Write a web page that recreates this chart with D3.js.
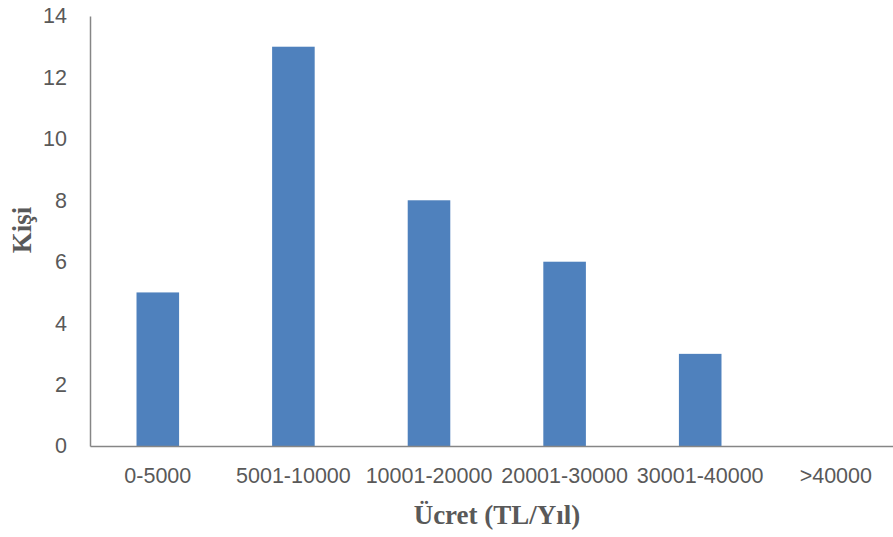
<!DOCTYPE html>
<html>
<head>
<meta charset="utf-8">
<script src="https://cdn.jsdelivr.net/npm/d3@7"></script>
<style>
  html, body { margin: 0; padding: 0; background: #fff; }
  svg { display: block; }
</style>
</head>
<body>
<script>
const categories = ["0-5000", "5001-10000", "10001-20000", "20001-30000", "30001-40000", ">40000"];
const values = [5, 13, 8, 6, 3, 0];
const yTicks = [0, 2, 4, 6, 8, 10, 12, 14];
const xTitle = "Ücret (TL/Yıl)";
const yTitle = "Kişi";

const W = 893, H = 537;
const mLeft = 90, mTop = 16, mBottom = 446, step = 135.6;

const svg = d3.select("body").append("svg").attr("width", W).attr("height", H);

const x = d3.scaleBand().domain(categories)
  .range([mLeft, mLeft + step * categories.length])
  .paddingInner(0.686).paddingOuter(0.343);
const y = d3.scaleLinear().domain([0, 14]).range([mBottom, mTop]);

svg.append("g").selectAll("rect").data(values).join("rect")
  .attr("x", (d, i) => x(categories[i]))
  .attr("y", d => y(d))
  .attr("width", x.bandwidth())
  .attr("height", d => y(0) - y(d))
  .attr("fill", "#4F81BD");

const tickFont = "'Liberation Sans', Arial, sans-serif";

const gy = svg.append("g").attr("transform", `translate(${mLeft},0)`)
  .call(d3.axisLeft(y).tickValues(yTicks).tickSize(0).tickSizeOuter(0).tickPadding(23));
gy.select(".domain").attr("stroke", "#868686").attr("stroke-width", 1.5);
gy.selectAll("text").attr("font-family", tickFont).attr("font-size", 21.5).attr("fill", "#595959");

const gx = svg.append("g").attr("transform", `translate(0,${mBottom})`)
  .call(d3.axisBottom(x).tickSize(0).tickSizeOuter(0).tickPadding(22));
gx.select(".domain").attr("stroke", "#868686").attr("stroke-width", 1.5);
gx.selectAll("text").attr("font-family", tickFont).attr("font-size", 21.5).attr("fill", "#595959");

svg.append("text")
  .attr("x", 497).attr("y", 524)
  .attr("text-anchor", "middle")
  .attr("font-family", "'Liberation Serif', 'Times New Roman', serif")
  .attr("font-weight", "bold").attr("font-size", 27)
  .attr("fill", "#595959")
  .text(xTitle);

svg.append("text")
  .attr("transform", "translate(31,230) rotate(-90)")
  .attr("text-anchor", "middle")
  .attr("font-family", "'Liberation Serif', 'Times New Roman', serif")
  .attr("font-weight", "bold").attr("font-size", 27)
  .attr("fill", "#595959")
  .text(yTitle);
</script>
</body>
</html>
